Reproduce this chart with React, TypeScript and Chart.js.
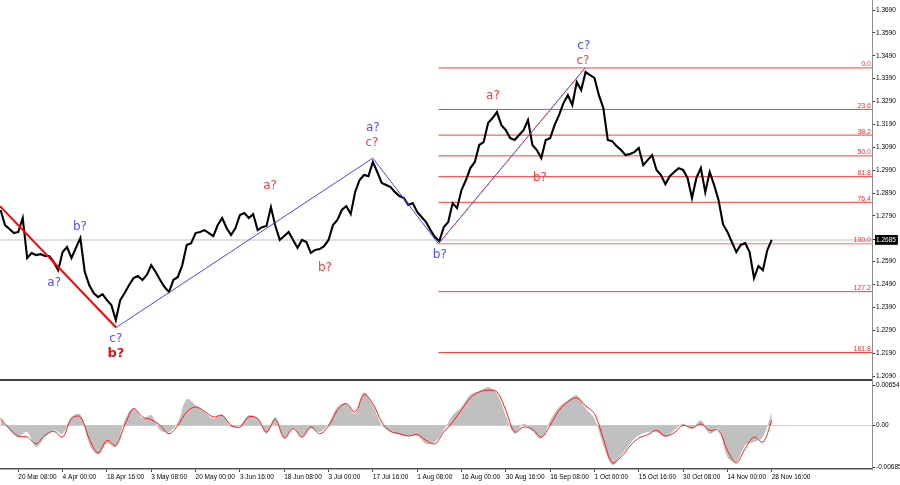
import React, { useEffect, useRef } from 'react';
import { Chart, registerables } from 'chart.js';

Chart.register(...registerables);

// ---------- DATA ----------
// x unit: 1/10 of the interval between two date labels; index 0 = "20 Mar 08:00"
const PRICE_START = -4;
const prices = [
  1.2816, 1.2750, 1.2733, 1.2715,
  1.2720, 1.2781, 1.2606, 1.2628, 1.2619, 1.2623, 1.2615, 1.2615, 1.2588, 1.2553,
  1.2632, 1.2654, 1.2606, 1.2650, 1.2693, 1.2545, 1.2488, 1.2453, 1.2435, 1.2448,
  1.2422, 1.2400, 1.2335, 1.2422, 1.2453, 1.2488, 1.2518, 1.2527, 1.2510, 1.2532,
  1.2575, 1.2545, 1.2510, 1.2479, 1.2457, 1.2510, 1.2523, 1.2575, 1.2663, 1.2671,
  1.2715, 1.2720, 1.2728, 1.2715, 1.2702, 1.2750, 1.2781, 1.2737, 1.2706, 1.2737,
  1.2794, 1.2803, 1.2781, 1.2798, 1.2728, 1.2741, 1.2746, 1.2829, 1.2746, 1.2685,
  1.2702, 1.2720, 1.2685, 1.2650, 1.2685, 1.2676, 1.2628, 1.2641, 1.2645, 1.2658,
  1.2685, 1.2750, 1.2772, 1.2816, 1.2833, 1.2798, 1.2894, 1.2947, 1.2969, 1.2964,
  1.3026, 1.2982, 1.2934, 1.2925, 1.2916, 1.2894, 1.2877, 1.2868, 1.2838, 1.2846,
  1.2807, 1.2785, 1.2763, 1.2728, 1.2698, 1.2680, 1.2741, 1.2763, 1.2846, 1.2824,
  1.2903, 1.2947, 1.2999, 1.3026, 1.3100, 1.3113, 1.3196, 1.3218, 1.3244, 1.3187,
  1.3165, 1.3130, 1.3122, 1.3144, 1.3165, 1.3209, 1.3100, 1.3078, 1.3043, 1.3122,
  1.3130, 1.3187, 1.3231, 1.3283, 1.3318, 1.3275, 1.3375, 1.3340, 1.3419, 1.3406,
  1.3393, 1.3318, 1.3262, 1.3122, 1.3117, 1.3095, 1.3078, 1.3056, 1.3061, 1.3069,
  1.3087, 1.3012, 1.3034, 1.3056, 1.2991, 1.2969, 1.2929, 1.2964, 1.2982, 1.2999,
  1.2991, 1.2956, 1.2868, 1.2956, 1.2999, 1.2894, 1.2982, 1.2925, 1.2859, 1.2754,
  1.2720, 1.2676, 1.2632, 1.2663, 1.2671, 1.2632, 1.2518, 1.2571, 1.2553, 1.2641,
  1.2685,
];

const MACD_START = -4;
const MACD_STEP = 2;
const macdMain = [
  0.00119, -0.00081, -0.00190, -0.00109, -0.00353, -0.00190, -0.00081, -0.00136, 0.00136, 0.00174,
  -0.00299, -0.00478, -0.00299, -0.00353, 0.00081, 0.00282, 0.00109, 0.00163, -0.00081, -0.00109,
  0.00054, 0.00424, 0.00326, 0.00217, 0.00109, 0.00174, -0.00027, 0, 0.00163, 0.00109,
  -0.00136, 0.00136, -0.00217, -0.00054, -0.00190, -0.00054, -0.00109, 0.00027, 0.00299, 0.00353,
  0.00190, 0.00532, 0.00326, 0, -0.00109, -0.00152, -0.00174, -0.00163, -0.00299, -0.00272,
  -0.00081, 0.00163, 0.00299, 0.00500, 0.00554, 0.00624, 0.00516, 0.00163, -0.00136, 0.00027,
  -0.00098, -0.00217, 0.00081, 0.00299, 0.00407, 0.00489, 0.00272, 0.00109, -0.00326, -0.00641,
  -0.00489, -0.00299, -0.00163, -0.00109, -0.00109, -0.00190, -0.00081, 0.00027, -0.00054, 0.00081,
  -0.00136, -0.00054, -0.00516, -0.00597, -0.00326, -0.00272, -0.00190, 0.00217,
];
const macdSignal = [
  0.00109, -0.00054, -0.00179, -0.00190, -0.00299, -0.00163, -0.00098, -0.00190, 0.00109, 0.00136,
  -0.00217, -0.00445, -0.00244, -0.00326, 0, 0.00272, 0.00136, 0.00092, 0, -0.00136,
  0, 0.00217, 0.00299, 0.00228, 0.00136, 0.00163, 0, -0.00027, 0.00136, 0.00109,
  -0.00109, 0.00098, -0.00206, -0.00054, -0.00190, -0.00027, -0.00136, -0.00011, 0.00244, 0.00353,
  0.00217, 0.00500, 0.00353, 0.00054, -0.00098, -0.00136, -0.00174, -0.00152, -0.00244, -0.00299,
  -0.00109, 0.00054, 0.00255, 0.00445, 0.00543, 0.00570, 0.00543, 0.00244, -0.00109, -0.00027,
  -0.00065, -0.00190, 0, 0.00244, 0.00380, 0.00445, 0.00315, 0.00190, -0.00217, -0.00608,
  -0.00516, -0.00337, -0.00206, -0.00152, -0.00081, -0.00174, -0.00119, 0, -0.00043, 0.00022,
  -0.00081, -0.00081, -0.00407, -0.00608, -0.00380, -0.00190, -0.00272, 0.00081,
];

const dateLabels = [
  '20 Mar 08:00', '4 Apr 00:00', '18 Apr 16:00', '3 May 08:00', '20 May 00:00', '3 Jun 16:00',
  '18 Jun 08:00', '3 Jul 00:00', '17 Jul 16:00', '1 Aug 08:00', '16 Aug 00:00', '30 Aug 16:00',
  '16 Sep 08:00', '1 Oct 00:00', '15 Oct 16:00', '30 Oct 08:00', '14 Nov 00:00', '28 Nov 16:00',
];
const DATE_STEP = 10;

const priceTicks = [
  1.2090, 1.2190, 1.2290, 1.2390, 1.2490, 1.2590, 1.2685, 1.2790, 1.2890,
  1.2990, 1.3090, 1.3190, 1.3290, 1.3390, 1.3490, 1.3590, 1.3690,
];
const LAST_PRICE = 1.2685;

const macdTicks = [-0.00685, 0, 0.00654];
const macdTickLabels = ['-0.00685', '0.00', '0.00654'];

// Fibonacci grid: anchored on the Aug low (100) and the Sep high (0)
const FIB_HIGH = 1.3437;
const FIB_LOW = 1.2668;
const FIB_FROM = 94.8;
const fibRatios = [0, 0.236, 0.382, 0.5, 0.618, 0.764, 1, 1.272, 1.618];

// wave lines (time index, price)
const waveMajorX = [-4.13, 22.05];
const waveMajorY = [1.2833, 1.2302];
const waveMinorX = [22.05, 80.0, 94.8, 127.9];
const waveMinorY = [1.2302, 1.3043, 1.2668, 1.3437];

// wave labels
const waveLabelText = ['b?', 'a?', 'c?', 'b?', 'a?', 'b?', 'a?', 'c?', 'b?', 'a?', 'b?', 'c?', 'c?'];
const waveLabelX = [13.9, 8.1, 22.0, 22.0, 56.8, 69.2, 80.0, 79.8, 95.1, 107.1, 117.7, 127.6, 127.4];
const waveLabelPrice = [1.2741, 1.2497, 1.2252, 1.2186, 1.2921, 1.2562, 1.3174, 1.3109, 1.2619, 1.3314, 1.2956, 1.3533, 1.3467];
const waveLabelDegree = ['minor', 'minor', 'minor', 'major', 'inter', 'inter', 'minor', 'inter', 'minor', 'inter', 'inter', 'minor', 'inter'];

// ---------- LAYOUT / STYLE ----------
const X_MIN = -4.13;
const X_MAX = 192.62;
const AXIS_W = 28;
const TICK_FONT = { family: 'Liberation Sans', size: 6.5 };
const degreeStyle: Record<string, { color: string; font: string }> = {
  minor: { color: '#4f4fff', font: '12px "DejaVu Sans"' },
  inter: { color: '#ff3b3b', font: '12px "DejaVu Sans"' },
  major: { color: '#e81010', font: 'bold 13px "DejaVu Sans"' },
};

const fibLevel = (r: number) => FIB_HIGH - r * (FIB_HIGH - FIB_LOW);

const annotationPlugin = {
  id: 'waveAnnotations',
  afterDatasetsDraw(chart: any) {
    const { ctx, chartArea } = chart;
    const xs = chart.scales.x;
    const ys = chart.scales.y;
    ctx.save();
    // fib labels
    ctx.font = '7px "Liberation Sans"';
    ctx.fillStyle = '#ff2a2a';
    ctx.textAlign = 'right';
    ctx.textBaseline = 'bottom';
    fibRatios.forEach((r) => {
      const py = ys.getPixelForValue(fibLevel(r));
      ctx.fillText((r * 100).toFixed(1), chartArea.right - 1, py);
    });
    // wave labels
    ctx.textAlign = 'center';
    ctx.textBaseline = 'middle';
    waveLabelText.forEach((t, k) => {
      const st = degreeStyle[waveLabelDegree[k]];
      ctx.font = st.font;
      ctx.fillStyle = st.color;
      ctx.fillText(t, xs.getPixelForValue(waveLabelX[k]), ys.getPixelForValue(waveLabelPrice[k]));
    });
    ctx.restore();
  },
};

function PriceChart() {
  const ref = useRef<HTMLCanvasElement>(null);
  useEffect(() => {
    const pricePts = prices.map((p, k) => ({ x: PRICE_START + k, y: p }));
    const fibSets = fibRatios.map((r) => ({
      data: [{ x: FIB_FROM, y: fibLevel(r) }, { x: X_MAX, y: fibLevel(r) }],
      borderColor: r === 1 ? '#ff7070' : '#ff3a3a',
      borderWidth: 1,
      pointRadius: 0,
      order: 6,
    }));
    const chart = new Chart(ref.current!, {
      type: 'line',
      data: {
        datasets: [
          {
            data: [{ x: X_MIN, y: LAST_PRICE }, { x: X_MAX, y: LAST_PRICE }],
            borderColor: '#d4d4d4', borderWidth: 1.5, pointRadius: 0, order: 8,
          },
          ...fibSets,
          {
            data: pricePts, borderColor: '#000', borderWidth: 2.1, pointRadius: 0, order: 4,
          },
          {
            data: waveMajorX.map((x, k) => ({ x, y: waveMajorY[k] })),
            borderColor: '#ff0000', borderWidth: 2, pointRadius: 0, order: 2,
          },
          {
            data: waveMinorX.map((x, k) => ({ x, y: waveMinorY[k] })),
            borderColor: '#4646ff', borderWidth: 1, pointRadius: 0, order: 2,
          },
          {
            data: waveMinorX.slice(2).map((x, k) => ({ x, y: waveMinorY[k + 2] })),
            borderColor: '#ff3030', borderWidth: 1, borderDash: [2, 2], pointRadius: 0, order: 1,
          },
        ] as any,
      },
      options: {
        animation: false,
        responsive: false,
        events: [],
        layout: { padding: 0 },
        plugins: { legend: { display: false }, tooltip: { enabled: false } },
        scales: {
          x: { type: 'linear', min: X_MIN, max: X_MAX, display: false },
          y: {
            type: 'linear', position: 'right', min: 1.2077, max: 1.3734,
            afterBuildTicks: (s: any) => { s.ticks = priceTicks.map((v) => ({ value: v })); },
            afterFit: (s: any) => { s.width = AXIS_W; s.paddingTop = 0; s.paddingBottom = 0; },
            grid: { drawOnChartArea: false, drawTicks: true, tickLength: 3, tickColor: '#333' },
            border: { display: true, color: '#8c8c8c' },
            ticks: {
              autoSkip: false, padding: 1, font: TICK_FONT,
              color: (c: any) => (c.tick && c.tick.value === LAST_PRICE ? '#fff' : '#000'),
              showLabelBackdrop: (c: any) => !!(c.tick && c.tick.value === LAST_PRICE),
              backdropColor: '#000',
              backdropPadding: { top: 1, bottom: 1, left: 1, right: 2 },
              callback: (v: any) => Number(v).toFixed(4),
            },
          },
        },
      } as any,
      plugins: [annotationPlugin],
    });
    return () => chart.destroy();
  }, []);
  return <canvas ref={ref} width={900} height={379} style={{ display: 'block' }} />;
}

function MacdChart() {
  const ref = useRef<HTMLCanvasElement>(null);
  useEffect(() => {
    const mainPts = macdMain.map((v, k) => ({ x: MACD_START + k * MACD_STEP, y: v }));
    const sigPts = macdSignal.map((v, k) => ({ x: MACD_START + k * MACD_STEP, y: v }));
    const chart = new Chart(ref.current!, {
      type: 'line',
      data: {
        datasets: [
          { data: sigPts, borderColor: '#ff1a1a', borderWidth: 1, pointRadius: 0, tension: 0.35, order: 1 },
          {
            data: mainPts, borderWidth: 0, borderColor: 'rgba(0,0,0,0)', backgroundColor: '#c0c0c0',
            fill: 'origin', pointRadius: 0, tension: 0.35, order: 2,
          },
        ] as any,
      },
      options: {
        animation: false,
        responsive: false,
        events: [],
        layout: { padding: 0 },
        plugins: { legend: { display: false }, tooltip: { enabled: false } },
        scales: {
          x: {
            type: 'linear', min: X_MIN, max: X_MAX, position: 'bottom',
            afterBuildTicks: (s: any) => { s.ticks = dateLabels.map((_, k) => ({ value: k * DATE_STEP })); },
            afterFit: (s: any) => { s.height = 16; s.paddingLeft = 0; s.paddingRight = 0; },
            grid: { drawOnChartArea: false, drawTicks: true, tickLength: 3, tickColor: '#444' },
            border: { display: true, color: '#505050', width: 1.5 },
            ticks: {
              autoSkip: false, maxRotation: 0, minRotation: 0, align: 'start', padding: 1,
              font: TICK_FONT, color: '#000',
              callback: (_v: any, i: number) => dateLabels[i],
            },
          },
          y: {
            type: 'linear', position: 'right', min: -0.0071, max: 0.0072,
            afterBuildTicks: (s: any) => { s.ticks = macdTicks.map((v) => ({ value: v })); },
            afterFit: (s: any) => { s.width = AXIS_W; s.paddingTop = 0; s.paddingBottom = 0; },
            grid: {
              drawOnChartArea: true, drawTicks: true, tickLength: 3, tickColor: '#333',
              color: (c: any) => (c.tick && c.tick.value === 0 ? '#d0d0d0' : 'rgba(0,0,0,0)'),
            },
            border: { display: true, color: '#8c8c8c' },
            ticks: {
              autoSkip: false, padding: 1, font: TICK_FONT, color: '#000',
              callback: (_v: any, i: number) => macdTickLabels[i],
            },
          },
        },
      } as any,
    });
    return () => chart.destroy();
  }, []);
  return <canvas ref={ref} width={900} height={104} style={{ display: 'block' }} />;
}

export default function App() {
  return (
    <div style={{ position: 'fixed', left: 0, top: 0, width: 900, height: 485, background: '#fff' }}>
      <PriceChart />
      <div
        style={{
          width: 900, height: 2,
          background: 'linear-gradient(to right, #404040 0px, #404040 872px, #8c8c8c 872px, #8c8c8c 873px, #fff 873px)',
        }}
      />
      <MacdChart />
    </div>
  );
}
